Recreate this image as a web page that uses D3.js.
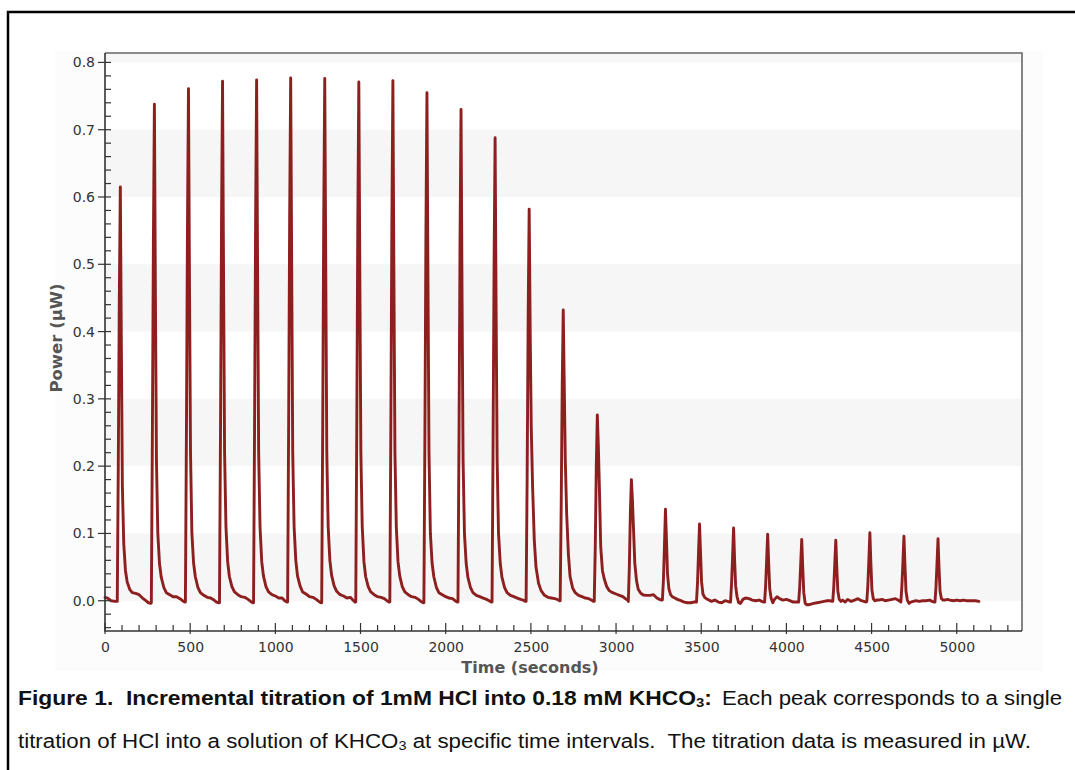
<!DOCTYPE html>
<html>
<head>
<meta charset="utf-8">
<script src="https://cdn.jsdelivr.net/npm/d3@7"></script>
<style>
body { margin: 0; background: #fff; }
svg { display: block; }
</style>
</head>
<body>
<svg id="chart" width="1075" height="770"></svg>
<script>
// injection times (s) of each peak
var peakTime = [90, 290, 490, 690, 890, 1090, 1290, 1490, 1690, 1890, 2090, 2290, 2490,
                2690, 2890, 3090, 3290, 3490, 3690, 3890, 4090, 4290, 4490, 4690, 4890];

// seconds relative to each peak where the trace was read
var offsets = [-18, -12, -6, 0, 6, 12, 20, 30, 40, 55, 70, 90, 110, 130, 150, 165, 178];

// power (uW) at those offsets, one row per peak
var cycles = [
  [-0.001, 0.20, 0.45, 0.615, 0.38, 0.17, 0.085, 0.045, 0.028, 0.017, 0.012, 0.011, 0.009, 0.004, 0.000, -0.003, -0.004],
  [-0.003, 0.24, 0.53, 0.738, 0.45, 0.21, 0.10, 0.055, 0.035, 0.020, 0.012, 0.009, 0.006, 0.006, 0.003, 0.000, -0.002],
  [-0.002, 0.25, 0.55, 0.761, 0.47, 0.22, 0.10, 0.056, 0.036, 0.020, 0.012, 0.008, 0.005, 0.004, 0.001, -0.002, -0.003],
  [-0.003, 0.25, 0.56, 0.772, 0.48, 0.22, 0.11, 0.058, 0.036, 0.021, 0.013, 0.009, 0.006, 0.005, 0.002, -0.001, -0.003],
  [-0.003, 0.26, 0.56, 0.774, 0.48, 0.22, 0.11, 0.058, 0.037, 0.021, 0.013, 0.009, 0.007, 0.004, 0.004, 0.000, -0.002],
  [-0.002, 0.26, 0.57, 0.777, 0.49, 0.22, 0.11, 0.060, 0.037, 0.022, 0.013, 0.010, 0.006, 0.005, 0.002, -0.001, -0.003],
  [-0.003, 0.26, 0.57, 0.776, 0.49, 0.22, 0.11, 0.060, 0.038, 0.022, 0.014, 0.009, 0.007, 0.004, 0.005, 0.001, -0.002],
  [-0.002, 0.26, 0.56, 0.771, 0.48, 0.22, 0.11, 0.058, 0.036, 0.021, 0.013, 0.009, 0.006, 0.005, 0.003, 0.000, -0.002],
  [-0.002, 0.26, 0.56, 0.773, 0.48, 0.22, 0.11, 0.058, 0.037, 0.021, 0.013, 0.009, 0.006, 0.005, 0.002, -0.001, -0.003],
  [-0.003, 0.25, 0.55, 0.755, 0.47, 0.22, 0.10, 0.056, 0.036, 0.020, 0.012, 0.009, 0.006, 0.004, 0.003, 0.000, -0.002],
  [-0.002, 0.24, 0.53, 0.730, 0.45, 0.21, 0.10, 0.056, 0.035, 0.020, 0.012, 0.008, 0.006, 0.004, 0.002, 0.000, -0.002],
  [-0.002, 0.23, 0.50, 0.688, 0.43, 0.21, 0.10, 0.056, 0.035, 0.020, 0.012, 0.008, 0.006, 0.004, 0.002, 0.001, -0.001],
  [-0.001, 0.18, 0.42, 0.582, 0.40, 0.26, 0.17, 0.090, 0.050, 0.026, 0.015, 0.008, 0.005, 0.004, 0.003, 0.002, 0.000],
  [0.000, 0.14, 0.32, 0.432, 0.32, 0.21, 0.13, 0.070, 0.036, 0.019, 0.012, 0.008, 0.006, 0.004, 0.003, 0.001, -0.001],
  [-0.001, 0.08, 0.20, 0.276, 0.23, 0.17, 0.08, 0.045, 0.033, 0.021, 0.015, 0.012, 0.010, 0.008, 0.006, 0.003, 0.001],
  [-0.001, 0.05, 0.13, 0.180, 0.15, 0.11, 0.056, 0.030, 0.017, 0.011, 0.0085, 0.008, 0.008, 0.009, 0.004, 0.002, 0.001],
  [0.001, 0.03, 0.08, 0.136, 0.09, 0.040, 0.018, 0.009, 0.006, 0.004, 0.002, 0.000, -0.002, -0.003, -0.003, -0.002, -0.002],
  [-0.002, 0.025, 0.07, 0.114, 0.07, 0.028, 0.010, 0.005, 0.003, 0.001, -0.001, 0.001, -0.002, -0.003, 0.000, -0.001, -0.002],
  [-0.002, 0.025, 0.065, 0.108, 0.06, 0.022, 0.006, -0.003, -0.004, 0.002, 0.004, 0.003, 0.001, 0.000, 0.001, -0.001, -0.002],
  [-0.002, 0.022, 0.06, 0.099, 0.055, 0.018, 0.004, -0.003, 0.002, 0.006, 0.003, 0.001, 0.002, 0.000, -0.002, -0.002, -0.002],
  [-0.002, 0.02, 0.055, 0.091, 0.048, 0.012, -0.004, -0.006, -0.006, -0.005, -0.004, -0.003, -0.002, -0.001, 0.000, 0.000, -0.001],
  [-0.001, 0.02, 0.055, 0.090, 0.048, 0.014, 0.002, -0.001, 0.001, -0.002, 0.002, -0.001, 0.001, 0.003, 0.000, -0.001, -0.002],
  [-0.001, 0.022, 0.06, 0.101, 0.055, 0.016, 0.003, 0.000, 0.001, 0.001, 0.002, 0.000, 0.001, 0.002, 0.003, 0.001, -0.001],
  [-0.002, 0.022, 0.058, 0.096, 0.052, 0.014, 0.001, -0.004, -0.002, -0.001, 0.000, -0.001, 0.000, 0.000, 0.001, -0.001, -0.002],
  [-0.002, 0.02, 0.055, 0.092, 0.048, 0.014, 0.003, 0.001, 0.001, 0.002, 0.001, 0.000, 0.001, 0.000, 0.001, 0.000, 0.000]
];

// baseline before the first injection and after the last one
var leadIn = [[0, 0.005], [15, 0.004], [35, 0.000], [60, -0.001]];
var leadOut = [[5090, 0.000], [5110, 0.000], [5130, -0.001]];

var xMajor = [0, 500, 1000, 1500, 2000, 2500, 3000, 3500, 4000, 4500, 5000];
var yMajor = [0.0, 0.1, 0.2, 0.3, 0.4, 0.5, 0.6, 0.7, 0.8];
var bandFrom = [0.0, 0.2, 0.4, 0.6, 0.8];

var trace = leadIn.slice();
peakTime.forEach(function (p, i) {
    offsets.forEach(function (o, j) {
        trace.push([p + o, cycles[i][j]]);
    });
});
trace = trace.concat(leadOut);

var svg = d3.select("#chart");
var pL = 105, pR = 1022, pT = 53, pB = 631;
var yMax = 0.814;

var x = d3.scaleLinear().domain([0, 5383]).range([pL, pR]);
var y = d3.scaleLinear().domain([-0.045, yMax]).range([pB, pT]);

// faint panel behind the plot
svg.append("rect").attr("x", 55).attr("y", 51).attr("width", 988).attr("height", 620).attr("fill", "#fcfcfc");

svg.append("rect").attr("x", pL).attr("y", pT).attr("width", pR - pL).attr("height", pB - pT).attr("fill", "#fff");

svg.selectAll("rect.band").data(bandFrom).enter().append("rect")
    .attr("class", "band")
    .attr("x", pL)
    .attr("width", pR - pL)
    .attr("y", function (d) { return y(Math.min(d + 0.1, yMax)); })
    .attr("height", function (d) { return y(d) - y(Math.min(d + 0.1, yMax)); })
    .attr("fill", "#f6f6f6");

// frame top and right
svg.append("path")
    .attr("d", "M" + pL + "," + pT + "H" + pR + "V" + pB)
    .attr("fill", "none").attr("stroke", "#666").attr("stroke-width", 1.6);

var line = d3.line()
    .x(function (d) { return x(d[0]); })
    .y(function (d) { return y(d[1]); });

svg.append("path")
    .datum(trace)
    .attr("d", line)
    .attr("fill", "none")
    .attr("stroke", "#8e1f1f")
    .attr("stroke-width", 2.9)
    .attr("stroke-linejoin", "round")
    .attr("stroke-linecap", "round");

// ticks
var xMinor = d3.range(100, 5301, 100).filter(function (v) { return v % 500 != 0; });
var yMinor = d3.range(-4, 81, 2).filter(function (v) { return v % 10 != 0; }).map(function (v) { return v / 100; });

svg.selectAll("line.xmin").data(xMinor).enter().append("line")
    .attr("x1", function (d) { return x(d); }).attr("x2", function (d) { return x(d); })
    .attr("y1", pB - 6).attr("y2", pB)
    .attr("stroke", "#333").attr("stroke-width", 1.2);
svg.selectAll("line.xmaj").data(xMajor).enter().append("line")
    .attr("x1", function (d) { return x(d); }).attr("x2", function (d) { return x(d); })
    .attr("y1", pB - 8).attr("y2", pB + 3)
    .attr("stroke", "#333").attr("stroke-width", 1.2);
svg.selectAll("line.ymin").data(yMinor).enter().append("line")
    .attr("y1", function (d) { return y(d); }).attr("y2", function (d) { return y(d); })
    .attr("x1", pL).attr("x2", pL + 6)
    .attr("stroke", "#333").attr("stroke-width", 1.2);
svg.selectAll("line.ymaj").data(yMajor).enter().append("line")
    .attr("y1", function (d) { return y(d); }).attr("y2", function (d) { return y(d); })
    .attr("x1", pL - 7).attr("x2", pL + 6)
    .attr("stroke", "#333").attr("stroke-width", 1.2);

// axis lines
svg.append("path")
    .attr("d", "M" + pL + "," + pT + "V" + pB + "H" + pR)
    .attr("fill", "none").attr("stroke", "#333").attr("stroke-width", 1.6);

var xAxis = svg.append("g")
    .attr("transform", "translate(0," + pB + ")")
    .call(d3.axisBottom(x).tickValues(xMajor).tickSize(0).tickPadding(11).tickFormat(d3.format("d")));
var yAxis = svg.append("g")
    .attr("transform", "translate(" + pL + ",0)")
    .call(d3.axisLeft(y).tickValues(yMajor).tickSize(0).tickPadding(10).tickFormat(d3.format(".1f")));
[xAxis, yAxis].forEach(function (g) {
    g.select(".domain").remove();
    g.selectAll("text").attr("font-family", "DejaVu Sans, Verdana, sans-serif").attr("font-size", 14).attr("fill", "#333");
});

svg.append("text")
    .attr("x", 530).attr("y", 673)
    .attr("text-anchor", "middle")
    .attr("font-family", "DejaVu Sans, Verdana, sans-serif")
    .attr("font-weight", "bold").attr("font-size", 16).attr("fill", "#555")
    .text("Time (seconds)");

svg.append("text")
    .attr("transform", "translate(62,338) rotate(-90)")
    .attr("text-anchor", "middle")
    .attr("font-family", "DejaVu Sans, Verdana, sans-serif")
    .attr("font-weight", "bold").attr("font-size", 16.5).attr("fill", "#555")
    .text("Power (µW)");

// figure border
svg.append("path")
    .attr("d", "M8,770V12H1075")
    .attr("fill", "none").attr("stroke", "#000").attr("stroke-width", 2.5);

// caption
var capFont = "Liberation Sans Narrow, Arial Narrow, Liberation Sans, Arial, sans-serif";
var c1 = svg.append("text").attr("x", 18).attr("y", 705)
    .attr("font-family", capFont).attr("font-size", 20).attr("font-weight", "bold").attr("fill", "#111")
    .attr("textLength", 694).attr("lengthAdjust", "spacingAndGlyphs");
c1.append("tspan").text("Figure 1.\u00a0 Incremental titration of 1mM HCl into 0.18 mM KHCO");
c1.append("tspan").attr("font-size", 13).attr("dy", 2).text("3");
c1.append("tspan").attr("dy", -2).text(":");

svg.append("text").attr("x", 722).attr("y", 705)
    .attr("font-family", capFont).attr("font-size", 20).attr("fill", "#111")
    .attr("textLength", 340).attr("lengthAdjust", "spacingAndGlyphs")
    .text("Each peak corresponds to a single");

var c2 = svg.append("text").attr("x", 18).attr("y", 748)
    .attr("font-family", capFont).attr("font-size", 20).attr("fill", "#111")
    .attr("textLength", 1013).attr("lengthAdjust", "spacingAndGlyphs");
c2.append("tspan").text("titration of HCl into a solution of KHCO");
c2.append("tspan").attr("font-size", 13).attr("dy", 2).text("3");
c2.append("tspan").attr("dy", -2).text(" at specific time intervals.\u00a0 The titration data is measured in µW.");
</script>
</body>
</html>
